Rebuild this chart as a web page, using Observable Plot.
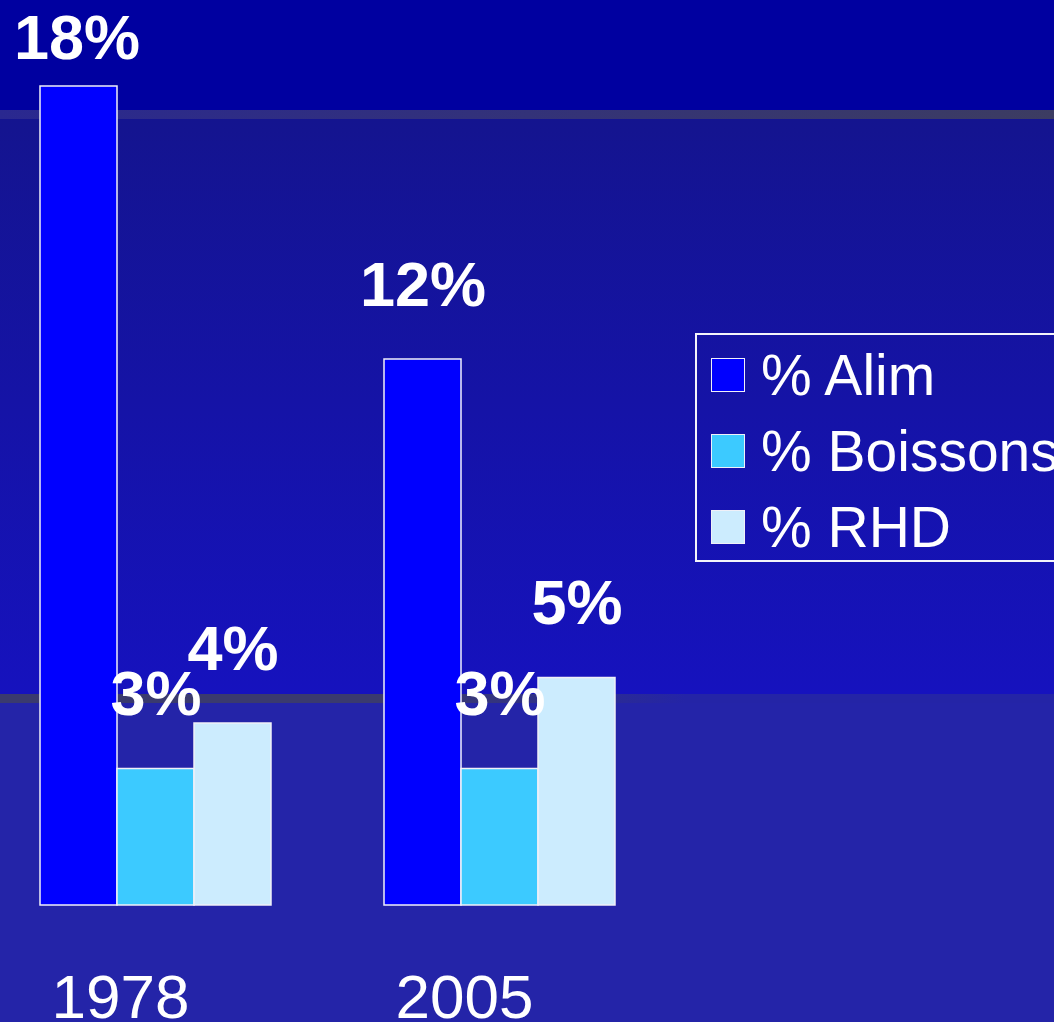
<!DOCTYPE html>
<html>
<head>
<meta charset="utf-8">
<script src="https://cdn.jsdelivr.net/npm/d3@7"></script>
<script src="https://cdn.jsdelivr.net/npm/@observablehq/plot@0.6"></script>
<style>
  html, body { margin: 0; padding: 0; background: #2424a8; overflow: hidden; }
  #wrap {
    position: relative; width: 1054px; height: 1022px; overflow: hidden;
    font-family: "Liberation Sans", Arial, sans-serif;
  }
  #bg { position: absolute; left: 0; top: 0; width: 1054px; height: 1022px; }
  #bg div { position: absolute; left: 0; width: 1054px; }
  #chart { position: absolute; left: 0; top: 0; }
  .legend {
    position: absolute; left: 695px; top: 333px; width: 420px; height: 229px;
    border: 2px solid #f4f4fa; box-sizing: border-box; padding-top: 2px;
  }
  .legend .row { height: 76px; display: flex; align-items: center; }
  .legend .sw {
    width: 32px; height: 32px; margin-left: 14px; border: 1.5px solid #f0f0f8;
    box-sizing: content-box;
  }
  .legend .lab { color: #fff; font-size: 57px; line-height: 1; margin-left: 16px; white-space: nowrap; }
</style>
</head>
<body>
<div id="wrap">
  <div id="bg">
    <div style="top:0;height:110px;background:#0000a0"></div>
    <div style="top:110px;height:9px;background:linear-gradient(to right,#2a2890,#3c3c62)"></div>
    <div style="top:119px;height:575px;background:linear-gradient(to bottom,#14148f,#1612be)"></div>
    <div style="top:694px;height:9px;background:linear-gradient(to right,#3a3a6e 0%,#3a3a6e 40%,#2424a6 65%,#2424a6 100%)"></div>
    <div style="top:703px;height:319px;background:#2424a8"></div>
  </div>
  <div id="chart"></div>
  <div class="legend" id="legend"></div>
</div>
<script>
const years = ["1978", "2005"];
const series = ["% Alim", "% Boissons", "% RHD"];
const alim = [18, 12];
const boissons = [3, 3];
const rhd = [4, 5];
const colors = ["#0000ff", "#3ccaff", "#ccecfe"];

const valuesBySeries = [alim, boissons, rhd];
const data = [];
years.forEach((yr, i) => {
  series.forEach((s, j) => {
    data.push({year: yr, series: s, value: valuesBySeries[j][i]});
  });
});

const font = "'Liberation Sans', Arial, sans-serif";

const chart = Plot.plot({
  width: 1054,
  height: 1022,
  marginLeft: 39,
  marginRight: 439,
  marginTop: 0,
  marginBottom: 117,
  style: {background: "transparent", color: "white", fontFamily: font, overflow: "visible"},
  fx: {domain: years, paddingInner: 0.326, paddingOuter: 0, axis: null},
  x: {domain: series, padding: 0, axis: null},
  y: {domain: [0, 905 / 45.5], axis: null},
  color: {domain: series, range: colors},
  marks: [
    Plot.barY(data, {fx: "year", x: "series", y: "value", fill: "series",
      stroke: "#f0f0f8", strokeWidth: 1.5, inset: 0}),
    Plot.text(data.filter(d => d.value < 15), {fx: "year", x: "series", y: "value",
      text: d => d.value + "%", lineAnchor: "bottom", dy: -54,
      fill: "white", fontSize: 63, fontWeight: "bold"}),
    Plot.text(data.filter(d => d.value >= 15), {fx: "year", x: "series", y: "value",
      text: d => d.value + "%", lineAnchor: "bottom", dy: -28, dx: -2,
      fill: "white", fontSize: 63, fontWeight: "bold"}),
    Plot.text(years, {fx: d => d, text: d => d, frameAnchor: "bottom",
      lineAnchor: "bottom", dy: 112, dx: -35, fill: "white", fontSize: 62})
  ]
});
document.getElementById("chart").appendChild(chart);

const legend = document.getElementById("legend");
series.forEach((s, j) => {
  const row = document.createElement("div");
  row.className = "row";
  const sw = document.createElement("div");
  sw.className = "sw";
  sw.style.background = colors[j];
  const lab = document.createElement("div");
  lab.className = "lab";
  lab.textContent = s;
  row.appendChild(sw);
  row.appendChild(lab);
  legend.appendChild(row);
});
</script>
</body>
</html>
